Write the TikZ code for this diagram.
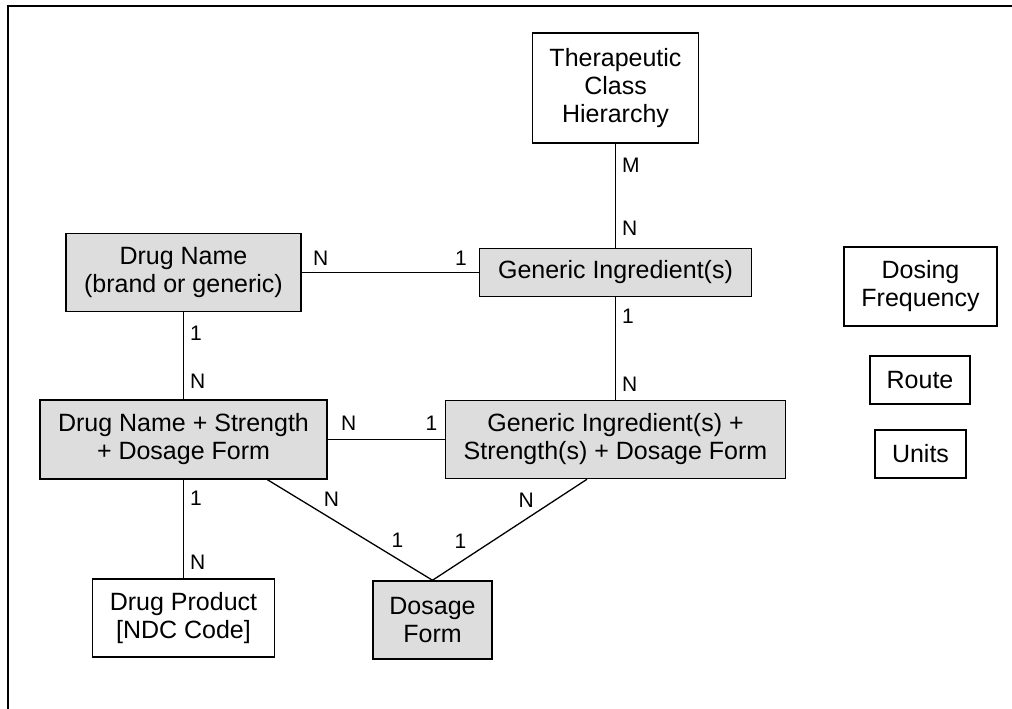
\documentclass[tikz,border=0pt]{standalone}
\usepackage{fontspec}
\setmainfont{Liberation Sans}
\definecolor{entityfill}{RGB}{221,221,221}

\begin{document}
\begin{tikzpicture}[x=1pt, y=-1pt,
  box/.style={draw, rectangle, line width=1.5pt, align=center, inner sep=0pt, font=\fontsize{25}{28}\selectfont},
  entity/.style={box, fill=entityfill},
  lookup/.style={box, fill=white},
  cardlbl/.style={inner sep=3pt, font=\fontsize{21}{24}\selectfont},
  link/.style={line width=1.3pt}]

% page frame
\useasboundingbox (0, 0) rectangle (1012, 709);
\draw[line width=2pt] (1012, 6.5) -- (7.5, 6.5) -- (7.5, 709);

% class hierarchy and ingredients
\node[lookup, minimum width=166pt, minimum height=110pt] at (615.5,  88) (tch) {Therapeutic\\Class\\Hierarchy};
\node[entity, minimum width=272pt, minimum height=48pt] at (615.5, 272.5) (gi) {Generic Ingredient(s)};
\node[entity, minimum width=340pt, minimum height=78pt] at (615.5, 439.5) (gisdf) {Generic Ingredient(s) +\\Strength(s) + Dosage Form};

% drug names and products
\node[entity, minimum width=235pt, minimum height=78pt] at (183.5, 272.5) (dn) {Drug Name\\(brand or generic)};
\node[entity, minimum width=287pt, minimum height=79pt] at (183.5, 439.5) (dnsdf) {Drug Name + Strength\\+ Dosage Form};
\node[lookup, minimum width=182pt, minimum height=78pt] at (183.5, 618) (dp) {Drug Product\\{[NDC Code]}};
\node[entity, minimum width=119pt, minimum height=78pt] at (432.5, 620) (df) {Dosage\\Form};

% stand-alone lookups
\node[lookup, minimum width=153pt, minimum height=79pt] at (920.5, 286.5) (dfreq) {Dosing\\Frequency};
\node[lookup, minimum width=100pt, minimum height=48pt] at (920, 380) (route) {Route};
\node[lookup, minimum width=91pt, minimum height=48pt] at (920.5, 454) (units) {Units};

% relationships
\draw[link] (tch) -- (gi) node[cardlbl, pos=0.21, right=3pt] {M} node[cardlbl, pos=0.81, right=3pt] {N};
\draw[link] (dn) -- (gi) node[cardlbl, pos=0.107, above=3pt] {N} node[cardlbl, pos=0.90, above=3pt] {1};
\draw[link] (dn) -- (dnsdf) node[cardlbl, pos=0.24, right=3pt] {1} node[cardlbl, pos=0.79, right=3pt] {N};
\draw[link] (gi) -- (gisdf) node[cardlbl, pos=0.19, right=3pt] {1} node[cardlbl, pos=0.85, right=3pt] {N};
\draw[link] (dnsdf) -- (gisdf) node[cardlbl, pos=0.18, above=5pt] {N} node[cardlbl, pos=0.886, above=5pt] {1};
\draw[link] (dnsdf) -- (dp) node[cardlbl, pos=0.185, right=3pt] {1} node[cardlbl, pos=0.835, right=3pt] {N};

% dosage form links
\draw[link] ([xshift=84pt]dnsdf.south) -- (df.north) node[cardlbl, pos=0.387, above=8pt] {N} node[cardlbl, pos=0.787, above=7.5pt] {1};
\draw[link] ([xshift=-28.5pt]gisdf.south) -- (df.north) node[cardlbl, pos=0.394, above=7.5pt] {N} node[cardlbl, pos=0.819, above=10pt] {1};

\end{tikzpicture}
\end{document}
